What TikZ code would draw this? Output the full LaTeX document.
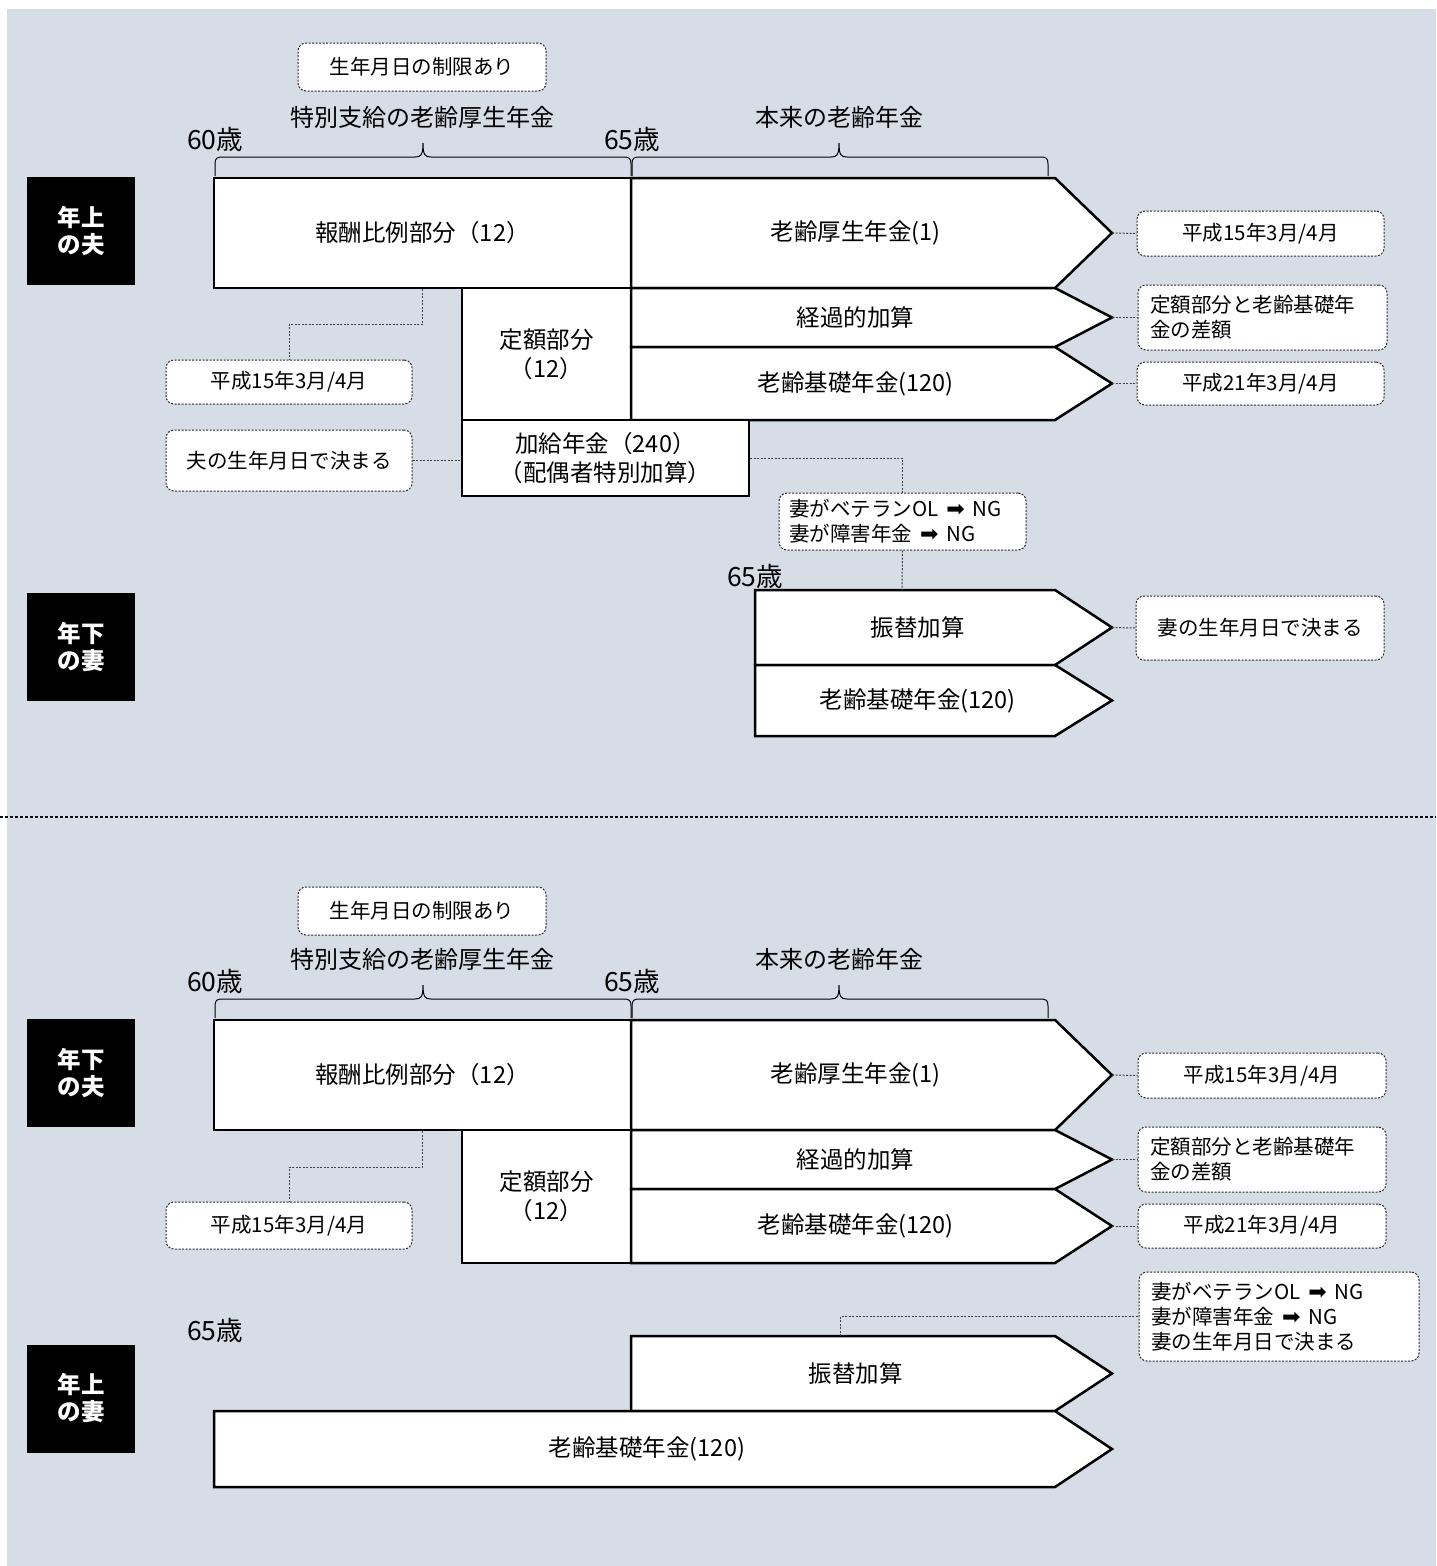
\documentclass[tikz,border=0pt]{standalone}
\usepackage{fontspec}
\setmainfont{Noto Sans CJK JP}
\newfontfamily\mysymf{DejaVu Sans}
\usetikzlibrary{calc}
\definecolor{bgc}{RGB}{214,221,230}
\newcommand\myfmain{\fontsize{23.5}{29}\selectfont}
\newcommand\myfsmall{\fontsize{20.5}{25}\selectfont}
\newcommand\myfage{\fontsize{26.5}{30}\selectfont}
\newcommand\myrarr{\hspace{8pt}{\mysymf\fontsize{22}{20}\selectfont ➡}\hspace{8pt}}
\newcommand\mypenta[5]{%
  \draw[bar] (#2,#3) -- (1055,#3) -- (1112,{(#3+#4)/2}) -- (1055,#4) -- (#2,#4) -- cycle;
  \node[lbl] (#1) at ({(#2+1080)/2},{(#3+#4)/2}) {#5};
  \coordinate (#1-tip) at (1112,{(#3+#4)/2});
}
\newcommand\mybrace[4]{% x1, xm, x2, ybase
  \draw[line width=1pt] (#1,#4) -- (#1,#4-12) .. controls (#1,#4-18) and (#1+2,#4-19) .. (#1+8,#4-19)
    -- (#2-8,#4-19) .. controls (#2-2,#4-19) and (#2,#4-21) .. (#2,#4-33)
    .. controls (#2,#4-21) and (#2+2,#4-19) .. (#2+8,#4-19)
    -- (#3-8,#4-19) .. controls (#3-2,#4-19) and (#3,#4-18) .. (#3,#4-12) -- (#3,#4);
}
\tikzset{
  bar/.style={draw=black, line width=2.5pt, fill=white, line join=miter},
  lbl/.style={font=\myfmain, align=center, inner sep=0pt},
  rbox/.style={bar, font=\myfmain, align=center, inner sep=0pt},
  note/.style={draw=black!85, dash pattern=on 2pt off 1.5pt, line width=1pt, rounded corners=8pt,
    fill=white, font=\myfsmall, align=left, inner sep=0pt},
  link/.style={draw=black!75, dash pattern=on 2pt off 1.5pt, line width=1pt},
  who/.style={fill=black, text=white, font=\fontsize{23.5}{27}\selectfont\bfseries, align=center,
    minimum width=108pt, minimum height=108pt, inner sep=0pt},
  hdr/.style={font=\fontsize{24}{28}\selectfont, inner sep=0pt},
  age/.style={font=\myfage, inner sep=0pt},
}
\begin{document}
\begin{tikzpicture}[x=1pt,y=-1pt]
\useasboundingbox (0,0) rectangle (1436,1566);
\fill[bgc] (7,9) rectangle (1436,1566);

% ================= upper half =================
\node[note, minimum width=248pt, minimum height=48pt] (a-lim) at (422,67) {生年月日の制限あり};
\node[hdr] (a-tok) at (422,117) {特別支給の老齢厚生年金};
\node[hdr] (a-hon) at (839,117) {本来の老齢年金};
\node[age] (a-60) at (215,139) {60歳};
\node[age] (a-65) at (632,139) {65歳};
\mybrace{215}{423}{631}{176}
\mybrace{632}{839}{1048}{176}

\node[who] (a-hus) at (81,231) {年上\\の夫};
\node[rbox, minimum width=417pt, minimum height=110pt] (a-hohi) at (422.5,233) {報酬比例部分（12）};
\mypenta{a-kosei}{631}{178}{288}{老齢厚生年金(1)}
\node[rbox, minimum width=169pt, minimum height=132pt] (a-teigaku) at (546.5,354) {定額部分\\（12）};
\mypenta{a-keika}{631}{288}{347}{経過的加算}
\mypenta{a-kiso}{631}{347}{420}{老齢基礎年金(120)}
\node[rbox, minimum width=287pt, minimum height=76pt] (a-kakyu) at (605.5,458) {加給年金（240）\\（配偶者特別加算）};

\node[note, minimum width=247pt, minimum height=45pt] (a-n1) at (1260.5,233.5) {平成15年3月/4月};
\node[note, minimum width=249pt, minimum height=65pt, text width=225pt] (a-n2) at (1262.5,317.5) {定額部分と老齢基礎年\\金の差額};
\node[note, minimum width=247pt, minimum height=43pt] (a-n3) at (1260.5,383.5) {平成21年3月/4月};
\node[note, minimum width=246pt, minimum height=44pt] (a-n4) at (289,382) {平成15年3月/4月};
\node[note, minimum width=246pt, minimum height=61pt] (a-n5) at (289,460.5) {夫の生年月日で決まる};
\node[note, minimum width=247pt, minimum height=57pt, text width=227pt] (a-n6) at (902.5,521.5) {妻がベテランOL\myrarr NG\\妻が障害年金\myrarr NG};

\node[age] (a-65w) at (755,576) {65歳};
\node[who] (a-wife) at (81,647) {年下\\の妻};
\mypenta{a-furi}{755}{590}{665}{振替加算}
\mypenta{a-kisow}{755}{665}{736}{老齢基礎年金(120)}
\coordinate (a-furi-n) at (902,590);
\node[note, minimum width=248pt, minimum height=64pt] (a-n7) at (1260,628) {妻の生年月日で決まる};

\draw[link] (a-kosei-tip) -- (a-n1.west);
\draw[link] (a-keika-tip) -- (a-n2.west);
\draw[link] (a-kiso-tip) -- (a-n3.west);
\draw[link] (a-hohi.south) -- ++(0,35) -| (a-n4.north);
\draw[link] (a-n5.east) -- (a-n5.east -| a-kakyu.west);
\draw[link] (a-kakyu.east) -| (a-n6.north);
\draw[link] (a-n6.south) -- (a-furi-n);
\draw[link] (a-furi-tip) -- (a-n7.west);

% ================= separator =================
\coordinate (sepL) at (0,817);
\coordinate (sepR) at (1436,817);
\draw[dash pattern=on 3pt off 2pt, line width=1.5pt] (sepL) -- (sepR);

% ================= lower half =================
\node[note, minimum width=248pt, minimum height=48pt] (b-lim) at (422,911) {生年月日の制限あり};
\node[hdr] (b-tok) at (422,959) {特別支給の老齢厚生年金};
\node[hdr] (b-hon) at (839,959) {本来の老齢年金};
\node[age] (b-60) at (215,981) {60歳};
\node[age] (b-65) at (632,981) {65歳};
\mybrace{215}{423}{631}{1018}
\mybrace{632}{839}{1048}{1018}

\node[who] (b-hus) at (81,1073) {年下\\の夫};
\node[rbox, minimum width=417pt, minimum height=110pt] (b-hohi) at (422.5,1075) {報酬比例部分（12）};
\mypenta{b-kosei}{631}{1020}{1130}{老齢厚生年金(1)}
\node[rbox, minimum width=169pt, minimum height=133pt] (b-teigaku) at (546.5,1196.5) {定額部分\\（12）};
\mypenta{b-keika}{631}{1130}{1189}{経過的加算}
\mypenta{b-kiso}{631}{1189}{1263}{老齢基礎年金(120)}

\node[note, minimum width=248pt, minimum height=45pt] (b-n1) at (1262,1075.5) {平成15年3月/4月};
\node[note, minimum width=248pt, minimum height=65pt, text width=224pt] (b-n2) at (1262,1159.5) {定額部分と老齢基礎年\\金の差額};
\node[note, minimum width=248pt, minimum height=44pt] (b-n3) at (1262,1226) {平成21年3月/4月};
\node[note, minimum width=246pt, minimum height=47pt] (b-n4) at (289,1225.5) {平成15年3月/4月};

\node[age] (b-65w) at (215,1330) {65歳};
\node[who] (b-wife) at (81,1398.5) {年上\\の妻};
\mypenta{b-furi}{631}{1336}{1411}{振替加算}
\mypenta{b-kisow}{214}{1411}{1487}{老齢基礎年金(120)}
\coordinate (b-furi-n) at (840,1336);
\node[note, minimum width=280pt, minimum height=89pt, text width=256pt] (b-n6) at (1279,1316.5) {妻がベテランOL\myrarr NG\\妻が障害年金\myrarr NG\\妻の生年月日で決まる};

\draw[link] (b-kosei-tip) -- (b-n1.west);
\draw[link] (b-keika-tip) -- (b-n2.west);
\draw[link] (b-kiso-tip) -- (b-n3.west);
\draw[link] (b-hohi.south) -- ++(0,36) -| (b-n4.north);
\draw[link] (b-furi-n) |- (b-n6.west);
\end{tikzpicture}
\end{document}
